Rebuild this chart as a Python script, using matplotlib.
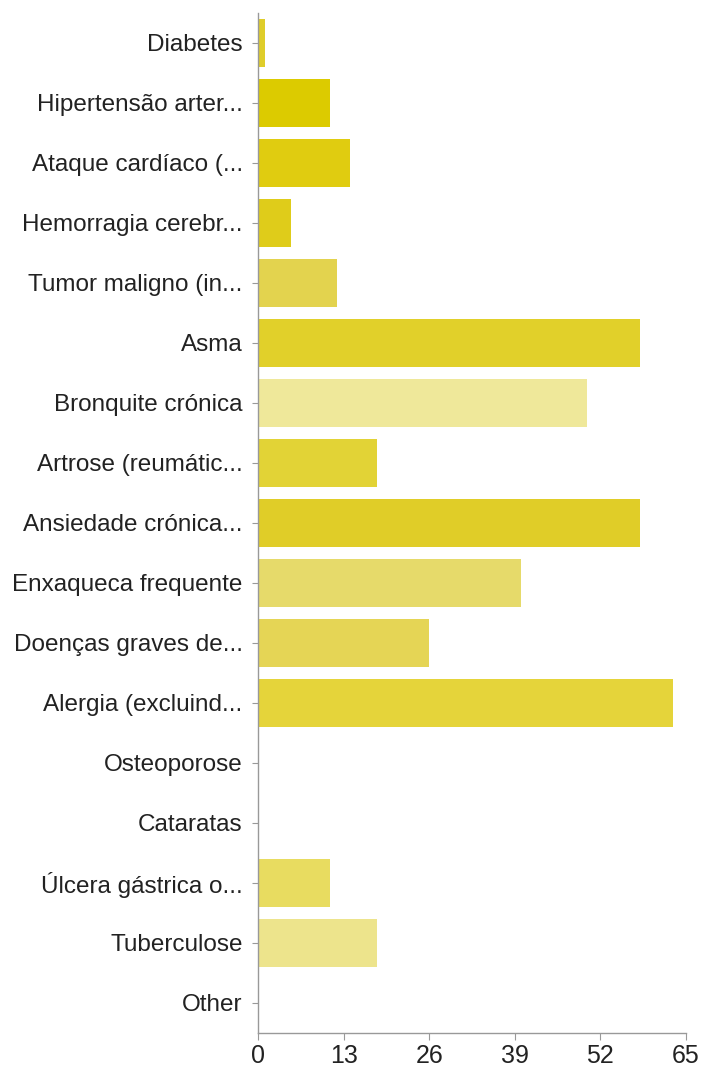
import matplotlib.pyplot as plt

# categorias e contagens
categorias = ['Diabetes', 'Hipertensão arter...', 'Ataque cardíaco (...',
              'Hemorragia cerebr...', 'Tumor maligno (in...', 'Asma',
              'Bronquite crónica', 'Artrose (reumátic...', 'Ansiedade crónica...',
              'Enxaqueca frequente', 'Doenças graves de...', 'Alergia (excluind...',
              'Osteoporose', 'Cataratas', 'Úlcera gástrica o...', 'Tuberculose',
              'Other']
valores = [1, 11, 14, 5, 12, 58, 50, 18, 58, 40, 26, 63, 0, 0, 11, 18, 0]
cores = ['#dfcd2a', '#dccb00', '#e0cc10', '#dfcc1a', '#e3d34e', '#e1d02a',
         '#efe89a', '#e2d336', '#e0cd28', '#e6da6a', '#e5d555', '#e5d43a',
         '#e5d43a', '#e5d43a', '#e8dc60', '#ede48c', '#e5d43a']
xticks = [0, 13, 26, 39, 52, 65]

plt.rcParams['font.family'] = ['Liberation Sans', 'DejaVu Sans']

fig = plt.figure(figsize=(7.03, 10.70), dpi=100)
ax = fig.add_axes([0.367, 0.0346, 0.6088, 0.9534])

pos = list(range(len(categorias)))
ax.barh(pos, valores, height=0.8, color=cores)

ax.set_ylim(len(categorias) - 0.5, -0.5)
ax.set_xlim(0, 65)
ax.set_yticks(pos)
ax.set_yticklabels(categorias, fontsize=17.5, color='#222222')
ax.set_xticks(xticks)
ax.set_xticklabels([str(t) for t in xticks], fontsize=18, color='#222222')

for s in ['top', 'right']:
    ax.spines[s].set_visible(False)
for s in ['left', 'bottom']:
    ax.spines[s].set_color('#999999')
    ax.spines[s].set_linewidth(1)
ax.tick_params(axis='y', length=4, color='#999999', pad=7)
ax.tick_params(axis='x', length=5, color='#999999', pad=3)

fig.savefig('out.png', dpi=100)
